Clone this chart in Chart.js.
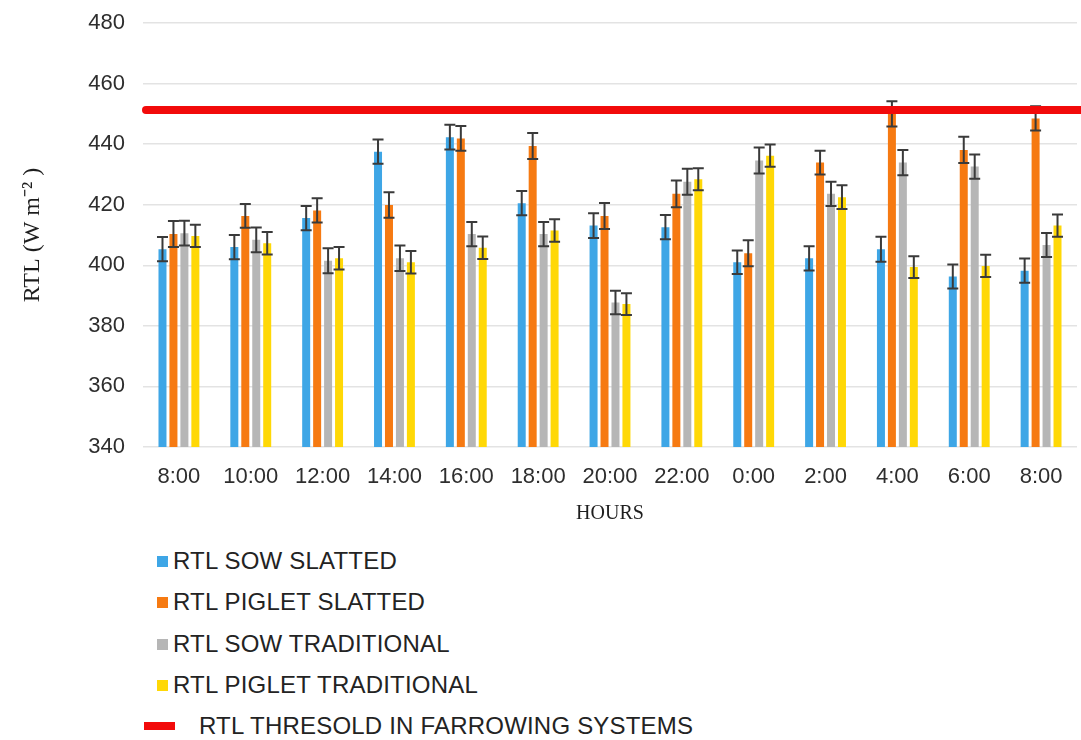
<!DOCTYPE html>
<html>
<head>
<meta charset="utf-8">
<script src="https://cdn.jsdelivr.net/npm/chart.js@4.4.1/dist/chart.umd.min.js"></script>
<style>
  html, body { margin: 0; padding: 0; background: #ffffff; }
  #wrap { position: relative; width: 1081px; height: 740px; overflow: hidden; background: #ffffff; }
  #chart { position: absolute; left: 0; top: 0; }
  .item {
    position: absolute; display: flex; align-items: center; height: 28px;
    font-family: "Liberation Sans", Arial, sans-serif; font-size: 24px; color: #232323;
    white-space: nowrap; letter-spacing: 0.2px;
  }
  .sq { display: inline-block; width: 11px; height: 11px; margin-right: 5px; }
  .ln { display: inline-block; width: 31px; height: 8px; margin-right: 24px; }
</style>
</head>
<body>
<div id="wrap">
  <canvas id="chart" width="1081" height="540"></canvas>
  <div id="legend"></div>
</div>
<script>
// Hours of the measurement cycle
const hours = ['8:00', '10:00', '12:00', '14:00', '16:00', '18:00', '20:00', '22:00', '0:00', '2:00', '4:00', '6:00', '8:00'];

// Mean radiant thermal load (W m-2) and error bar half-widths per series
const sowSlatted        = [405.3, 406.0, 415.6, 437.5, 442.3, 420.5, 413.1, 412.6, 401.0, 402.3, 405.3, 396.3, 398.2];
const sowSlattedErr     = [4.0, 4.0, 4.0, 4.0, 4.1, 4.0, 4.1, 4.0, 3.9, 4.0, 4.1, 4.0, 4.0];
const pigletSlatted     = [410.3, 416.3, 418.1, 419.9, 441.9, 439.4, 416.3, 423.6, 404.0, 433.9, 450.0, 438.1, 448.5];
const pigletSlattedErr  = [4.3, 3.9, 4.0, 4.2, 4.1, 4.3, 4.3, 4.4, 4.3, 3.9, 4.2, 4.3, 4.0];
const sowTraditional    = [410.6, 408.4, 401.5, 402.3, 410.3, 410.3, 387.7, 427.6, 434.6, 423.6, 433.9, 432.6, 406.7];
const sowTraditionalErr = [4.1, 4.1, 4.1, 4.2, 4.0, 4.0, 3.9, 4.3, 4.3, 4.0, 4.2, 4.0, 4.0];
const pigletTraditional    = [409.7, 407.3, 402.3, 401.0, 405.8, 411.5, 387.2, 428.4, 436.2, 422.5, 399.4, 399.8, 413.1];
const pigletTraditionalErr = [3.7, 3.7, 3.7, 3.7, 3.7, 3.7, 3.6, 3.6, 3.7, 3.9, 3.6, 3.7, 3.7];

// Threshold value for farrowing systems
const threshold = 451.3;

// Axis range
const yMin = 340, yMax = 480, yStep = 20;

const seriesLabels = ['RTL SOW SLATTED', 'RTL PIGLET SLATTED', 'RTL SOW TRADITIONAL', 'RTL PIGLET TRADITIONAL'];
const thresholdLabel = 'RTL THRESOLD IN FARROWING SYSTEMS';
const colors = ['#3ea6e6', '#f67a12', '#b6b6b6', '#ffd806'];
const thresholdColor = '#f20a0a';

const values = [sowSlatted, pigletSlatted, sowTraditional, pigletTraditional];
const errors = [sowSlattedErr, pigletSlattedErr, sowTraditionalErr, pigletTraditionalErr];

// Draws the error bars on each bar and the threshold line across the plot
const overlays = {
  id: 'overlays',
  afterDatasetsDraw(chart) {
    const ctx = chart.ctx;
    const y = chart.scales.y;
    chart.data.datasets.forEach((ds, i) => {
      const meta = chart.getDatasetMeta(i);
      if (!ds.errors || meta.hidden) return;
      ctx.save();
      ctx.strokeStyle = '#3a3a3a';
      ctx.lineWidth = 2;
      meta.data.forEach((bar, j) => {
        const v = ds.data[j], e = ds.errors[j];
        const top = y.getPixelForValue(v + e);
        const bot = y.getPixelForValue(v - e);
        const hw = 5.5;
        ctx.beginPath();
        ctx.moveTo(bar.x, top); ctx.lineTo(bar.x, bot);
        ctx.moveTo(bar.x - hw, top); ctx.lineTo(bar.x + hw, top);
        ctx.moveTo(bar.x - hw, bot); ctx.lineTo(bar.x + hw, bot);
        ctx.stroke();
      });
      ctx.restore();
    });

    const ty = y.getPixelForValue(threshold);
    ctx.save();
    ctx.strokeStyle = thresholdColor;
    ctx.lineWidth = 8;
    ctx.lineCap = 'round';
    ctx.beginPath();
    ctx.moveTo(chart.chartArea.left + 3, ty);
    ctx.lineTo(chart.width + 10, ty);
    ctx.stroke();
    ctx.restore();
  }
};

const chart = new Chart(document.getElementById('chart'), {
  type: 'bar',
  data: {
    labels: hours,
    datasets: values.map((data, i) => ({
      label: seriesLabels[i],
      data: data,
      errors: errors[i],
      backgroundColor: colors[i],
      borderWidth: 0,
      categoryPercentage: 0.61,
      barPercentage: 0.73
    }))
  },
  options: {
    responsive: false,
    animation: false,
    layout: { padding: { top: 23, right: 4, bottom: 0, left: 0 } },
    plugins: {
      legend: { display: false },
      tooltip: { enabled: false }
    },
    scales: {
      x: {
        grid: { display: false, drawTicks: false },
        border: { display: false },
        ticks: {
          color: '#2e2e2e',
          padding: 17,
          maxRotation: 0,
          autoSkip: false,
          font: { family: '"Liberation Sans", Arial, sans-serif', size: 22 }
        },
        title: {
          display: true,
          text: 'HOURS',
          color: '#1e1e1e',
          padding: { top: 0, bottom: 14 },
          font: { family: '"Liberation Serif", "Times New Roman", serif', size: 20 }
        },
        afterFit(scale) {
          scale.height = 93;
          scale.paddingLeft = 0;
          scale.paddingRight = 0;
        }
      },
      y: {
        min: yMin,
        max: yMax,
        grid: { color: '#e3e3e3', lineWidth: 1.5, drawTicks: false },
        border: { display: false },
        ticks: {
          stepSize: yStep,
          color: '#2e2e2e',
          padding: 18,
          font: { family: '"Liberation Sans", Arial, sans-serif', size: 22 }
        },
        title: {
          display: true,
          text: 'RTL (W m\u207B\u00B2 )',
          color: '#1e1e1e',
          padding: { top: 18, bottom: 0 },
          font: { family: '"Liberation Serif", "Times New Roman", serif', size: 24 }
        },
        afterFit(scale) {
          scale.width = 143;
          scale.paddingTop = 0;
          scale.paddingBottom = 0;
        }
      }
    }
  },
  plugins: [overlays]
});

// Legend built from the chart's own datasets plus the threshold line
const legend = document.getElementById('legend');
const rowTops = [547, 588, 630, 671];
chart.data.datasets.forEach((ds, i) => {
  const item = document.createElement('div');
  item.className = 'item';
  item.style.left = '157px';
  item.style.top = rowTops[i] + 'px';
  const sq = document.createElement('span');
  sq.className = 'sq';
  sq.style.background = ds.backgroundColor;
  item.appendChild(sq);
  item.appendChild(document.createTextNode(ds.label));
  legend.appendChild(item);
});
const tItem = document.createElement('div');
tItem.className = 'item';
tItem.style.left = '144px';
tItem.style.top = '712px';
const ln = document.createElement('span');
ln.className = 'ln';
ln.style.background = thresholdColor;
tItem.appendChild(ln);
tItem.appendChild(document.createTextNode(thresholdLabel));
legend.appendChild(tItem);
</script>
</body>
</html>
